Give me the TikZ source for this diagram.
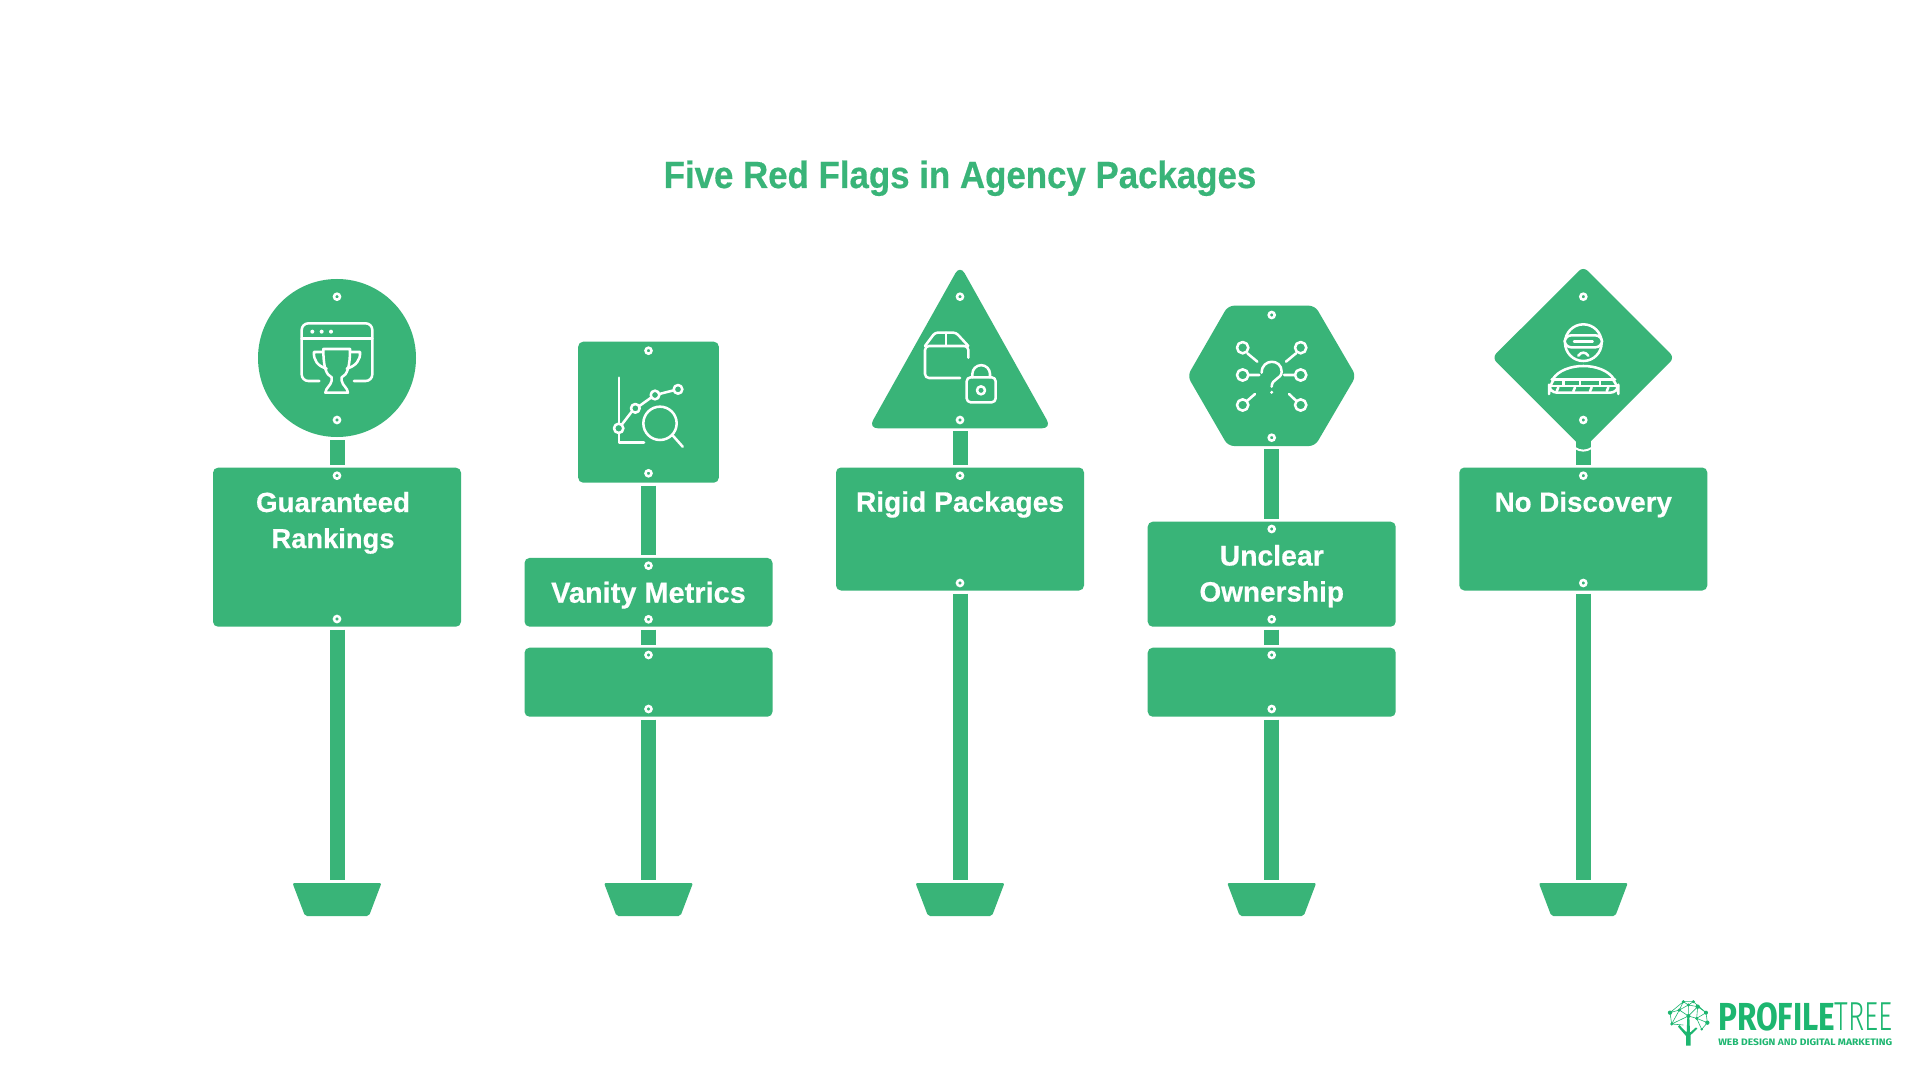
\documentclass[tikz,border=0pt]{standalone}
\usepackage{fontspec}
\usepackage{graphicx}
\setmainfont[BoldFeatures={FakeBold=0.5}]{Liberation Sans}
\newfontfamily\logobold{Fira Sans}
\newfontfamily\logolight{Fira Sans Light}
\definecolor{signgreen}{HTML}{39B478}
\definecolor{logogreen}{HTML}{1DB670}
\tikzset{
  signbox/.style={fill=signgreen,rounded corners=3.75pt,inner sep=0pt,outer sep=0pt,minimum width=186pt},
  signshape/.style={fill=signgreen,rounded corners=4.5pt},
  stem/.style={draw=signgreen,line width=11.25pt,shorten <=2.25pt,shorten >=2.25pt},
  stemtip/.style={draw=signgreen,line width=11.25pt,shorten >=2.25pt},
  foot/.style={fill=signgreen,rounded corners=1.5pt},
  rivet/.style={draw=white,fill=signgreen,line width=1.9pt},
  icon/.style={draw=white,line width=1.9pt,line cap=round,line join=round},
  label/.style={text=white,font=\fontsize{21}{27}\selectfont\bfseries,align=center,inner sep=0pt,anchor=base},
}
\newcommand{\rivets}[2]{\foreach \ry in {#2} \draw[rivet] (#1,\ry) circle[radius=3];}
\newcommand{\footat}[2]{%
  \coordinate (#1) at (#2,883);
  \fill[foot] (#2-44.5,883) -- (#2+44.5,883) -- (#2+32,916) -- (#2-32,916) -- cycle;}
\newcommand{\fitw}[2]{\resizebox{#1pt}{!}{#2}}
\begin{document}
\begin{tikzpicture}[x=.75pt,y=-.75pt]
\useasboundingbox (0,0) rectangle (1920,1080);
\fill[white] (0,0) rectangle (1920,1080);

\node[text=signgreen,font=\fontsize{28}{30}\selectfont\bfseries,inner sep=0pt,anchor=base] (title) at (960,188)
  {\resizebox{444.5pt}{20.6pt}{Five Red Flags in Agency Packages}};

% ---- Post 1
\node[fill=signgreen,circle,inner sep=0pt,outer sep=0pt,minimum size=118.5pt] (s1) at (337,358) {};
\node[signbox,minimum height=119.25pt] (b1a) at (337,547.2) {};
\footat{t1}{337}
\draw[stem] (s1.south) -- (b1a.north);
\draw[stem] (b1a.south) -- (t1);
\rivets{337}{296.7,420,475.7,619}
\node[label] (l1) at (333,548) {\fitw{115.5}{Guaranteed}\\\fitw{92.3}{Rankings}};

% ---- Post 2
\node[signbox,minimum width=105.5pt,minimum height=105.75pt] (s2) at (648.5,412.2) {};
\node[signbox,minimum height=51.5pt] (b2a) at (648.5,592.3) {};
\node[signbox,minimum height=51.75pt] (b2b) at (648.5,682.2) {};
\footat{t2}{648.5}
\draw[stem] (s2.south) -- (b2a.north);
\draw[stem] (b2a.south) -- (b2b.north);
\draw[stem] (b2b.south) -- (t2);
\rivets{648.5}{350.7,473.3,565.7,619.3,655,709}
\node[label] (l2) at (648.5,602.7) {\fitw{146}{Vanity Metrics}};

% ---- Post 3
\coordinate (s3) at (960,428.3);
\fill[signshape,rounded corners=7pt] (960,265) -- (1051.5,428.3) -- (868.5,428.3) -- cycle;
\node[signbox,minimum height=92.25pt] (b3a) at (960,529) {};
\footat{t3}{960}
\draw[stem] (s3) -- (b3a.north);
\draw[stem] (b3a.south) -- (t3);
\rivets{960}{296.7,420,475.7,583}
\node[label] (l3) at (960,511.7) {\fitw{156}{Rigid Packages}};

% ---- Post 4
\coordinate (s4) at (1271.7,446);
\fill[signshape] (1228,305.7) -- (1315,305.7) -- (1356,376) -- (1315,446) -- (1228,446) -- (1187.5,376) -- cycle;
\node[signbox,minimum height=78.75pt] (b4a) at (1271.7,574.2) {};
\node[signbox,minimum height=51.75pt] (b4b) at (1271.7,682.2) {};
\footat{t4}{1271.7}
\draw[stem] (s4) -- (b4a.north);
\draw[stem] (b4a.south) -- (b4b.north);
\draw[stem] (b4b.south) -- (t4);
\rivets{1271.7}{315,437.7,529,619.3,655,709}
\node[label] (l4) at (1271.7,601.5) {\fitw{78}{Unclear}\\\fitw{108.4}{Ownership}};

% ---- Post 5
\coordinate (s5) at (1583.3,440);
\node[signbox,minimum height=92.25pt] (b5a) at (1583.3,529) {};
\footat{t5}{1583.3}
\draw[stemtip] (s5) -- (b5a.north);
\draw[stem] (b5a.south) -- (t5);
\fill[signshape] (1583.3,266.5) -- (1674.5,357.7) -- (1583.3,448.9) -- (1492,357.7) -- cycle;
\draw[white,line width=1.5pt] (1575,448) .. controls (1580,451.5) and (1586.5,451.5) .. (1591.5,448);
\rivets{1583.3}{296.7,420,475.7,583}
\node[label] (l5) at (1583.3,511.7) {\fitw{133}{No Discovery}};

% ---- Icon 1: window with trophy
\begin{scope}[shift={(190,260)},scale=1/3,icon]
  \draw[rounded corners=5pt] (388,363) -- (335,363) -- (335,190) -- (547,190) -- (547,363) -- (492,363);
  \draw (335,235) -- (547,235);
  \fill[white] (367,215) circle[radius=6] (395,215) circle[radius=6] (423,215) circle[radius=6];
  \draw (400,267) -- (480,267) .. controls (480,320) and (472,345) .. (455,352) -- (455,362)
    .. controls (458,378) and (472,382) .. (474,398) -- (406,398)
    .. controls (408,382) and (422,378) .. (425,362) -- (425,352)
    .. controls (408,345) and (400,320) .. (400,267) -- cycle;
  \draw (399,276) -- (372,276) .. controls (370,300) and (382,318) .. (410,326);
  \draw (481,276) -- (510,276) .. controls (512,300) and (498,318) .. (470,326);
\end{scope}

% ---- Icon 2: chart with magnifier
\begin{scope}[shift={(510,330)},scale=1/3,icon]
  \draw (327,143) -- (327,280);
  \draw (327,310) -- (327,338) -- (402,338);
  \draw (326,295) circle[radius=14] (376,235) circle[radius=13] (435,195) circle[radius=13] (504,178) circle[radius=13];
  \draw (336,283) -- (366,244) (388,228) -- (423,203) (448,192) -- (491,181);
  \draw (450,280) circle[radius=50];
  \draw (487,315) -- (518,350);
\end{scope}

% ---- Icon 3: box with padlock
\begin{scope}[shift={(860,260)},scale=1/3,icon]
  \draw[rounded corners=3pt] (300,354) -- (195,354) -- (195,258) -- (325,258) -- (325,293);
  \draw[rounded corners=2pt] (195,258) -- (225,218) -- (288,218) -- (325,258);
  \draw (258,218) -- (258,255);
  \draw[rounded corners=3pt] (320,352) rectangle (407,427);
  \draw (337,352) -- (337,342) arc[start angle=180,end angle=360,radius=26.5] -- (390,352);
  \draw (363,391) circle[radius=12];
\end{scope}

% ---- Icon 4: question mark and nodes
\begin{scope}[shift={(1170,290)},scale=1/3,icon]
  \draw (275,248) .. controls (275,205) and (335,205) .. (335,245)
    .. controls (335,268) and (305,265) .. (305,290);
  \fill[white] (305,307) circle[radius=5];
  \draw (218,173) circle[radius=17] (218,255) circle[radius=17] (218,345) circle[radius=17]
        (392,173) circle[radius=17] (392,255) circle[radius=17] (392,345) circle[radius=17];
  \draw (232,190) -- (262,215) (235,255) -- (268,255) (232,332) -- (255,312)
        (378,190) -- (348,215) (375,255) -- (342,255) (378,332) -- (357,312);
\end{scope}

% ---- Icon 5: masked figure behind a wall
\begin{scope}[shift={(1480,260)},scale=1/3,icon]
  \draw (310,248) circle[radius=55];
  \draw[fill=signgreen,rounded corners=5pt] (254,226) rectangle (366,262);
  \draw (282,244) -- (338,244);
  \draw (295,287) .. controls (303,275) and (317,275) .. (325,287);
  \draw (218,358) .. controls (235,330) and (275,318) .. (310,318) .. controls (345,318) and (385,330) .. (402,358);
  \draw (215,358) -- (405,358);
  \draw[rounded corners=6pt] (222,358) -- (207,378) -- (207,398) -- (415,398) -- (415,378) -- (398,358);
  \draw (207,378) -- (415,378);
  \draw (250,362) -- (250,374) (300,362) -- (300,374) (360,362) -- (360,374);
  \draw (235,382) -- (230,394) (285,382) -- (280,394) (335,382) -- (330,394) (385,382) -- (380,394);
\end{scope}

% ---- Logo tree
\begin{scope}[shift={(1650,980)},scale=1/3]
  \fill[logogreen] (108,197) -- (122,197) -- (122,165) -- (142,146) -- (138,142) -- (120,158) -- (118,108) -- (112,108) -- (110,158) -- (88,135) -- (84,140) -- (108,168) -- cycle;
  \draw[logogreen,line width=.45pt]
    (60,98) -- (100,65) -- (130,65) -- (168,98) -- (172,128) -- (155,148) -- (140,115) -- (115,108) -- (88,90) -- (60,98) -- (65,132) -- (88,90) -- (100,65) -- (115,75) -- (130,65)
    (115,75) -- (88,90) (115,75) -- (115,108) (115,75) -- (143,80) -- (168,98) -- (140,115) -- (143,80) -- (115,108)
    (65,132) -- (115,108) (140,115) -- (172,128) (65,132) -- (100,135);
  \fill[logogreen] (60,98) circle[radius=6.5] (100,65) circle[radius=5] (130,65) circle[radius=5] (143,80) circle[radius=6.5]
    (168,98) circle[radius=6] (172,128) circle[radius=6.5] (140,115) circle[radius=5] (115,108) circle[radius=6]
    (88,90) circle[radius=5] (65,132) circle[radius=5] (115,75) circle[radius=5] (155,148) circle[radius=4];
\end{scope}
\node[text=logogreen,inner sep=0pt,anchor=base west] (logoa) at (1718,1030.7) {\resizebox{87.75pt}{20.8pt}{\logobold\bfseries PROFILE}};
\node[text=logogreen,inner sep=0pt,anchor=base east] (logob) at (1893,1030.7) {\resizebox{43.5pt}{20.8pt}{\logolight TREE}};
\node[text=logogreen,inner sep=0pt,anchor=base west] (logoc) at (1718,1045.7) {\resizebox{130.5pt}{5pt}{\logobold\bfseries WEB DESIGN {\logolight AND} DIGITAL MARKETING}};
\end{tikzpicture}
\end{document}
